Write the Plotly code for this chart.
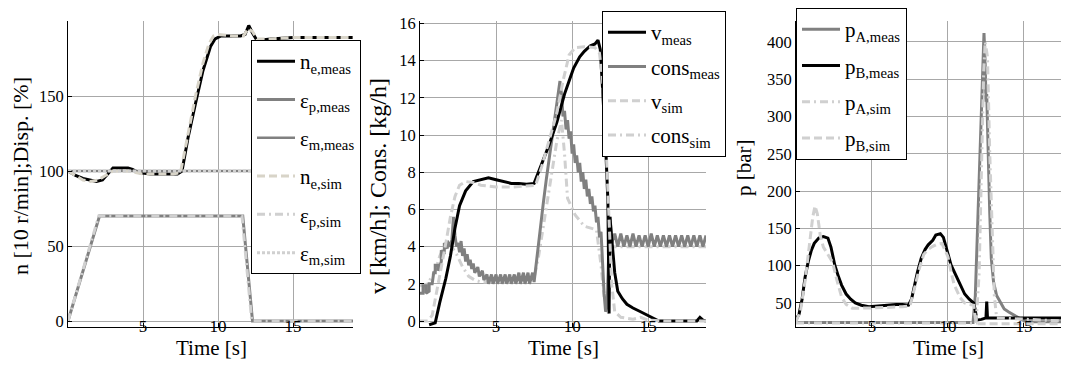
import plotly.graph_objects as go

W, H = 1069, 365

# ---------------- Panel 1 data ----------------
t_ne_meas = [0, 0.5, 1.0, 1.5, 1.9, 2.3, 2.7, 3.0, 3.5, 4.0, 4.3, 4.7, 5.5, 6.5, 7.3, 7.6, 8.0, 8.5, 9.0, 9.5, 9.8, 10.2, 11.0, 11.5, 11.8, 12.05, 12.3, 12.6, 13.5, 15, 17, 19]
ne_meas = [100, 97, 95, 94, 93, 94, 99, 102, 102, 102, 101, 99, 98, 98, 98, 100, 122, 145, 167, 183, 188, 190, 190, 190, 191, 197, 192, 187, 188, 189, 189, 189]
t_ep_meas = [0, 2.1, 4.0, 6.0, 8.0, 10.0, 11.65, 12.3, 19]
ep_meas = [0, 70, 70, 70, 70, 70, 70, 0, 0]
t_em_meas = [0, 19]
em_meas = [100, 100]
t_ne_sim = [0, 0.5, 1.0, 1.5, 2.0, 2.5, 3.0, 3.5, 4.0, 4.5, 5.0, 6.0, 7.0, 7.5, 8.0, 8.5, 9.0, 9.4, 9.7, 10.0, 11.0, 11.7, 12.0, 12.3, 12.6, 13.5, 15, 17, 19]
ne_sim = [100, 97, 94, 93, 94, 97, 100, 100, 100, 99, 98, 98, 98, 99, 125, 150, 172, 185, 190, 191, 190, 190, 195, 193, 188, 188, 189, 189, 189]
t_ep_sim = [0, 2.05, 11.6, 12.25, 19]
ep_sim = [0, 70, 70, 0, 0]
t_em_sim = [0, 19]
em_sim = [100, 100]

# ---------------- Panel 2 data ----------------
t_v_meas = [0.6, 1.0, 1.3, 1.7, 2.0, 2.3, 2.6, 3.0, 3.5, 4.0, 4.5, 5.0, 5.5, 6.0, 6.5, 7.0, 7.5, 7.8, 8.0, 8.5, 9.0, 9.2, 9.5, 9.8, 10.1, 10.5, 10.8, 11.2, 11.5, 11.7, 11.85, 12.0, 12.2, 12.35, 12.43, 12.48, 12.6, 12.8, 13.0, 13.3, 13.6, 14.0, 14.5, 15.0, 15.4, 15.7, 17, 18.2, 18.4, 18.6, 18.8]
v_meas = [-0.2, -0.1, 1.0, 2.3, 3.5, 5.0, 6.2, 7.0, 7.5, 7.6, 7.7, 7.6, 7.5, 7.4, 7.4, 7.35, 7.4, 8.0, 8.4, 9.5, 10.7, 11.3, 12.2, 12.9, 13.6, 14.2, 14.5, 14.8, 14.9, 15.1, 14.6, 12.5, 9.5, 6.5, 0.4, 5.6, 4.5, 2.6, 1.6, 1.2, 0.9, 0.7, 0.5, 0.3, 0.1, 0, 0, 0, 0.2, 0.05, 0]
t_cons_meas = [0, 0.2, 0.2, 0.4, 0.4, 0.6, 0.6, 0.8, 0.9, 1.0, 1.0, 1.2, 1.2, 1.4, 1.4, 1.6, 1.6, 1.8, 1.8, 2.0, 2.1, 2.2, 2.3, 2.4, 2.5, 2.6, 2.7, 2.8, 2.9, 3.0, 3.1, 3.2, 3.3, 3.4, 3.5, 3.6, 3.8, 3.9, 4.1, 4.2, 4.4, 4.5, 4.7, 4.8, 5.0, 5.1, 5.3, 5.4, 5.6, 5.7, 5.9, 6.0, 6.2, 6.3, 6.5, 6.6, 6.8, 6.9, 7.1, 7.2, 7.4, 7.5, 7.7, 7.9, 8.1, 8.3, 8.5, 8.7, 8.9, 9.1, 9.2, 9.3, 9.4, 9.5, 9.6, 9.7, 9.8, 9.9, 10.0, 10.1, 10.2, 10.3, 10.4, 10.5, 10.6, 10.7, 10.8, 10.9, 11.0, 11.1, 11.2, 11.3, 11.4, 11.5, 11.6, 11.7, 11.8, 11.9, 12.0, 12.1, 12.2, 12.3, 12.4, 12.5, 12.6, 12.8, 13.0, 13.2, 13.4, 13.6, 13.8, 14.0, 14.2, 14.4, 14.6, 14.8, 15.0, 15.2, 15.4, 15.6, 15.8, 16.0, 16.2, 16.4, 16.6, 16.8, 17.0, 17.2, 17.4, 17.6, 17.8, 18.0, 18.2, 18.4, 18.6, 18.8]
cons_meas = [1.5, 1.5, 1.9, 1.9, 1.5, 1.6, 2.0, 2.0, 2.6, 2.6, 3.0, 3.0, 2.7, 3.2, 3.8, 3.6, 4.2, 3.9, 4.3, 4.0, 4.4, 5.6, 4.6, 4.0, 4.2, 3.7, 4.3, 3.5, 3.9, 3.2, 3.6, 3.0, 3.3, 2.8, 3.1, 2.6, 2.9, 2.4, 2.7, 2.2, 2.5, 2.0, 2.5, 2.0, 2.5, 2.0, 2.5, 2.0, 2.5, 2.0, 2.5, 2.0, 2.5, 2.0, 2.6, 2.0, 2.6, 2.0, 2.6, 2.0, 2.6, 2.1, 3.5, 5.0, 6.3, 7.6, 8.8, 9.8, 11.0, 12.3, 12.9, 12.2, 11.0, 11.3, 10.3, 10.8, 9.8, 10.2, 9.0, 9.5, 8.5, 8.9, 8.0, 8.5, 7.5, 8.0, 7.1, 7.6, 6.7, 7.1, 6.3, 6.7, 5.9, 6.2, 5.3, 5.6, 4.5, 4.8, 3.0, 1.5, 0.5, 0.8, 3.5, 5.6, 4.2, 4.7, 4.0, 4.7, 4.0, 4.6, 4.0, 4.7, 4.0, 4.6, 4.0, 4.6, 4.0, 4.7, 4.0, 4.6, 4.0, 4.6, 4.0, 4.6, 4.0, 4.6, 4.0, 4.6, 4.0, 4.6, 4.0, 4.6, 4.0, 4.6, 4.0, 4.6, 4.0, 4.6]
t_v_sim = [0, 0.5, 0.8, 1.1, 1.4, 1.7, 2.0, 2.3, 2.6, 3.0, 3.5, 4.0, 5.0, 6.0, 7.0, 7.6, 8.0, 8.5, 9.0, 9.4, 9.8, 10.2, 10.8, 11.5, 11.8, 12.0, 12.2, 12.4, 12.6, 12.8, 13.2, 14.0, 14.5, 15, 16, 18.8]
v_sim = [0, 0, 0.3, 1.5, 2.9, 4.2, 5.6, 6.7, 7.3, 7.5, 7.45, 7.3, 7.2, 7.2, 7.25, 7.3, 8.3, 9.7, 11.2, 12.9, 14.3, 14.7, 14.75, 14.7, 14.4, 13.0, 10.0, 6.0, 2.0, 0.5, 0.2, 0.1, 0.2, 0.05, 0, 0]
t_cons_sim = [0, 0.5, 1.0, 1.3, 1.6, 2.0, 2.4, 2.8, 3.2, 3.6, 4.0, 5.0, 6.0, 7.0, 7.5, 7.8, 8.1, 8.4, 8.7, 9.0, 9.3, 9.5, 9.7, 10.2, 10.8, 11.6, 11.9, 12.1, 12.3, 12.5, 12.7, 13.0, 18.8]
cons_sim = [1.9, 2.0, 2.7, 3.5, 4.0, 4.1, 3.6, 2.9, 2.4, 2.2, 2.1, 2.1, 2.1, 2.2, 2.3, 3.5, 5.0, 6.6, 8.2, 9.7, 10.8, 9.0, 6.6, 5.7, 5.1, 4.9, 3.0, 1.3, 1.5, 3.5, 4.0, 4.0, 4.0]

# ---------------- Panel 3 data ----------------
t_pA_meas = [0, 11.65, 11.8, 12.0, 12.2, 12.37, 12.45, 12.5, 12.55, 12.63, 12.75, 12.85, 13.0, 13.2, 13.4, 13.7, 14.0, 14.4, 14.8, 15.2, 18.5]
pA_meas = [24, 24, 60, 180, 300, 412, 370, 320, 330, 260, 170, 110, 78, 60, 52, 42, 38, 33, 28, 25, 25]
t_pB_meas = [0, 0.2, 0.4, 0.6, 0.8, 1.0, 1.2, 1.5, 1.8, 2.1, 2.3, 2.55, 2.8, 3.0, 3.3, 3.6, 3.9, 4.3, 4.8, 5.3, 5.8, 6.2, 6.6, 7.0, 7.4, 7.6, 7.8, 8.0, 8.24, 8.5, 8.7, 9.0, 9.2, 9.5, 9.7, 9.9, 10.2, 10.5, 10.8, 11.1, 11.4, 11.7, 11.8, 11.9, 12.2, 12.5, 12.55, 12.6, 12.7, 13, 14, 15, 16, 17, 18.5]
pB_meas = [28, 35, 55, 85, 105, 120, 130, 137, 139, 137, 125, 101, 85, 74, 62, 55, 50, 47, 45, 46, 47, 48, 48, 48, 47, 55, 74, 92, 110, 122, 128, 134, 141, 143, 138, 124, 101, 88, 75, 62, 55, 50, 40, 27, 28, 30, 52, 30, 30, 30, 29, 30, 30, 30, 30]
t_pA_sim = [0, 11.85, 12.05, 12.2, 12.35, 12.45, 12.6, 12.75, 12.9, 13.05, 13.2, 18.5]
pA_sim = [23, 23, 90, 220, 360, 400, 380, 250, 140, 60, 30, 25]
t_pB_sim = [0, 0.3, 0.6, 0.9, 1.1, 1.25, 1.4, 1.6, 1.8, 2.1, 2.4, 2.7, 3.0, 3.3, 3.7, 4.2, 5.0, 6.0, 7.0, 7.5, 7.8, 8.1, 8.4, 8.7, 9.0, 9.3, 9.6, 10.0, 10.2, 10.4, 10.8, 11.1, 11.4, 11.7, 11.8, 11.9, 18.5]
pB_sim = [25, 40, 80, 130, 165, 180, 170, 140, 125, 115, 105, 80, 58, 48, 43, 43, 43, 44, 45, 46, 70, 95, 115, 122, 126, 129, 130, 112, 92, 75, 57, 50, 48, 47, 30, 22, 22]

# ---------------- styling ----------------
BLACK = "#000000"
GREY = "#808080"
LIGHT = "#d0d0d0"
BEIGE = "#d8d4c8"
FONT = "Liberation Serif, Times New Roman, serif"

DASH = "8px,4px"
DASHDOT = "8px,4px,2px,4px"
DOT = "3px,2px"

fig = go.Figure()

def add(x, y, name, color, width, dash, ax, legend, rank):
    xa = "x" if ax == 1 else f"x{ax}"
    ya = "y" if ax == 1 else f"y{ax}"
    fig.add_trace(go.Scatter(x=x, y=y, name=name, mode="lines",
                             line=dict(color=color, width=width, dash=dash),
                             xaxis=xa, yaxis=ya, legend=legend, legendgroup=f"g{legend}{rank}",
                             legendrank=rank, hoverinfo="skip"))

add(t_ne_meas, ne_meas, "n<sub>e,meas</sub>", BLACK, 3, "solid", 1, "legend", 1)
add(t_ep_meas, ep_meas, "ε<sub>p,meas</sub>", GREY, 3, "solid", 1, "legend", 2)
add(t_em_meas, em_meas, "ε<sub>m,meas</sub>", GREY, 2.5, "solid", 1, "legend", 3)
add(t_ne_sim, ne_sim, "n<sub>e,sim</sub>", BEIGE, 3, DASH, 1, "legend", 4)
add(t_ep_sim, ep_sim, "ε<sub>p,sim</sub>", LIGHT, 3, DASHDOT, 1, "legend", 5)
add(t_em_sim, em_sim, "ε<sub>m,sim</sub>", LIGHT, 3, DOT, 1, "legend", 6)

add(t_cons_sim, cons_sim, "cons<sub>sim</sub>", LIGHT, 3, DASHDOT, 2, "legend2", 4)
add(t_cons_meas, cons_meas, "cons<sub>meas</sub>", GREY, 3, "solid", 2, "legend2", 2)
add(t_v_meas, v_meas, "v<sub>meas</sub>", BLACK, 3, "solid", 2, "legend2", 1)
add(t_v_sim, v_sim, "v<sub>sim</sub>", LIGHT, 3, DASH, 2, "legend2", 3)

add(t_pA_meas, pA_meas, "p<sub>A,meas</sub>", GREY, 3, "solid", 3, "legend3", 1)
add(t_pB_meas, pB_meas, "p<sub>B,meas</sub>", BLACK, 3, "solid", 3, "legend3", 2)
add(t_pA_sim, pA_sim, "p<sub>A,sim</sub>", LIGHT, 3, DASHDOT, 3, "legend3", 3)
add(t_pB_sim, pB_sim, "p<sub>B,sim</sub>", LIGHT, 3, DASH, 3, "legend3", 4)

def px(v):
    return v / W

def py(v):
    return 1 - v / H

ydom = [py(319), py(13)]

common_x = dict(showline=True, linecolor="black", linewidth=1, ticks="inside", ticklen=4,
                tickcolor="black", showgrid=True, gridcolor="#a8a8a8", gridwidth=1,
                zeroline=False, tickvals=[5, 10, 15], ticklabelstandoff=-16,
                tickfont=dict(size=17, family=FONT, color="black"), automargin=False)
common_y = dict(showline=True, linecolor="black", linewidth=1, ticks="inside", ticklen=4,
                tickcolor="black", showgrid=True, gridcolor="#a8a8a8", gridwidth=1,
                zeroline=False, tickfont=dict(size=16.5, family=FONT, color="black"), domain=ydom,
                automargin=False, ticklabelposition="outside", ticklabeloverflow="allow")

leg = dict(bgcolor="white", bordercolor="black", borderwidth=1, xanchor="left", yanchor="top",
           font=dict(size=21, family=FONT, color="black"), itemwidth=38,
           traceorder="grouped", itemclick=False)

fig.update_layout(
    width=W, height=H, margin=dict(l=0, r=0, t=0, b=0, autoexpand=False),
    paper_bgcolor="white", plot_bgcolor="white", showlegend=True,
    font=dict(family=FONT, color="black"),
    xaxis=dict(common_x, domain=[px(60), px(345)], range=[0, 19], anchor="y"),
    yaxis=dict(common_y, range=[-4, 200], tickvals=[0, 50, 100, 150], anchor="x"),
    xaxis2=dict(common_x, domain=[px(412), px(698)], range=[0, 18.8], anchor="y2"),
    yaxis2=dict(common_y, range=[-0.32, 16.13], tickvals=[0, 2, 4, 6, 8, 10, 12, 14, 16], anchor="x2"),
    xaxis3=dict(common_x, domain=[px(788), 1.0], range=[0, 18.49], anchor="y3"),
    yaxis3=dict(common_y, range=[17.8, 428.1], tickvals=[50, 100, 150, 200, 250, 300, 350, 400], anchor="x3"),
    legend=dict(leg, x=px(243), y=py(32), tracegroupgap=8),
    legend2=dict(leg, x=px(594), y=py(3), tracegroupgap=4),
    legend3=dict(leg, x=px(788), y=py(0), tracegroupgap=6),
)

ann_font = dict(size=21, family=FONT, color="black")
fig.add_annotation(text="n [10 r/min];Disp. [%]", x=px(12), y=py(168), xref="paper", yref="paper",
                   textangle=-90, showarrow=False, font=dict(ann_font, size=22), xanchor="center", yanchor="middle")
fig.add_annotation(text="v [km/h]; Cons. [kg/h]", x=px(370), y=py(178), xref="paper", yref="paper",
                   textangle=-90, showarrow=False, font=dict(ann_font, size=24), xanchor="center", yanchor="middle")
fig.add_annotation(text="p [bar]", x=px(736), y=py(160), xref="paper", yref="paper",
                   textangle=-90, showarrow=False, font=dict(ann_font, size=21), xanchor="center", yanchor="middle")
for cx in [px(203), px(555), px(940)]:
    fig.add_annotation(text="Time [s]", x=cx, y=py(340), xref="paper", yref="paper",
                       showarrow=False, font=ann_font, xanchor="center", yanchor="middle")

fig.write_html("out.html")
